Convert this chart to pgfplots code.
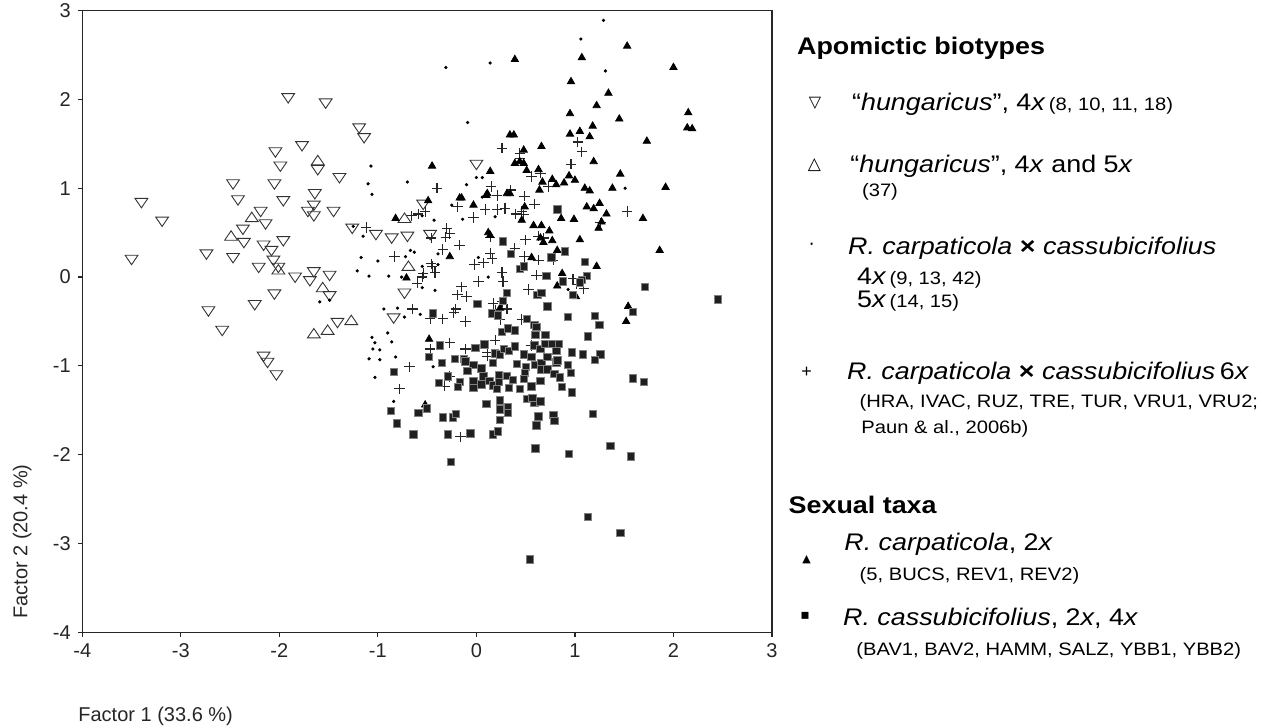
\documentclass[border=0pt]{standalone}
\usepackage{fontspec}
\setmainfont{Liberation Sans}
\newfontfamily\symfont{DejaVu Sans}
\usepackage{graphicx}
\usepackage{pgfplots}
\pgfplotsset{compat=1.18}
\newcommand{\legbig}[1]{\scalebox{1.12}[1]{\fontsize{12}{14}\selectfont #1}}
\newcommand{\legsmall}[1]{\scalebox{1.12}[1]{\fontsize{9}{11}\selectfont #1}}
\newcommand{\leghead}[1]{\scalebox{1.12}[1]{\fontsize{12}{14}\selectfont\bfseries #1}}
\newcommand{\tms}{{\upshape\bfseries ×}}
\begin{document}
\begin{tikzpicture}
\path[use as bounding box] (0,0) rectangle (636.5pt,363.5pt);
\begin{axis}[
  at={(41.15pt,47.35pt)}, anchor=south west,
  scale only axis, width=344.85pt, height=310.85pt,
  xmin=-4, xmax=3, ymin=-4, ymax=3,
  xtick={-4,-3,-2,-1,0,1,2,3}, ytick={-4,-3,-2,-1,0,1,2,3},
  xticklabels={-4,-3,-2,-1,0,1,2,3}, yticklabels={-4,-3,-2,-1,0,1,2,3},
  tick pos=left, tick align=outside, major tick length=2.3pt,
  tick label style={font=\fontsize{10}{12}\selectfont, black!85},
  axis line style={black!85, line width=0.6pt},
  every tick/.style={black!85, line width=0.6pt},
  clip=false,
]
% hungaricus 4x (open down triangles)
\addplot[only marks, mark=triangle, mark size=3.7pt, black!80, line width=0.45pt,
  mark options={rotate=180, yscale=0.85}] coordinates {
(-1.91,2.03) (-1.53,1.97) (-1.19,1.69) (-1.14,1.58) (-1.77,1.49) (-2.04,1.42)
(-1.99,1.26) (-1.61,1.22) (-1.39,1.13) (-2.47,1.06) (-2.05,1.06) (-1.64,0.95)
(-2.42,0.88) (-1.96,0.87) (-3.40,0.85) (-1.65,0.82) (-1.71,0.75) (-1.45,0.75)
(-1.65,0.70) (-2.19,0.75) (-2.14,0.61) (-3.19,0.64) (-2.37,0.55) (-1.26,0.56)
(-1.02,0.49) (-0.86,0.45) (-2.36,0.40) (-1.96,0.42) (-2.16,0.37) (-2.08,0.31)
(-2.74,0.27) (-2.47,0.23) (-3.50,0.21) (-2.06,0.20) (-2.21,0.12) (-2.01,0.12)
(-1.84,0.01) (-1.65,0.07) (-1.69,-0.03) (-1.49,0.03) (-2.05,-0.18) (-1.49,-0.20)
(-2.25,-0.30) (-2.72,-0.37) (-2.58,-0.59) (-1.41,-0.50) (-0.84,-0.45) (-2.16,-0.88)
(-2.12,-0.95) (-2.03,-1.09) (0.00,1.28) (-0.54,0.83) (-0.70,0.47) (-0.47,0.49)
(-0.73,-0.17)
};
% hungaricus 4x and 5x (open up triangles)
\addplot[only marks, mark=triangle, mark size=3.7pt, black!80, line width=0.45pt,
  mark options={yscale=0.85}] coordinates {
(-1.61,1.30) (-2.28,0.66) (-2.49,0.45) (-2.01,0.07) (-1.56,-0.13) (-1.27,-0.50)
(-1.51,-0.61) (-1.65,-0.65) (-0.73,0.65) (-0.69,0.11)
};
% carpaticola x cassubicifolius 4x, 5x (dots)
\addplot[only marks, mark=*, mark size=0.6pt, black] coordinates {
(1.29,2.89) (1.06,2.68) (0.14,2.41) (-0.31,2.36) (1.31,2.32) (-0.09,1.74)
(-0.70,1.07) (0.00,1.12) (0.06,1.12) (-0.10,1.04) (1.51,1.00) (0.06,0.90)
(-0.43,0.64) (-0.14,0.65) (0.19,0.68) (-0.25,0.81) (-0.55,0.69) (-0.67,0.30)
(0.02,0.22) (-0.39,0.26) (-0.55,0.12) (-0.39,0.14) (-0.89,0.01) (-0.76,0.00)
(-0.55,-0.12) (-0.42,-0.15) (0.12,0.00) (-0.94,-0.36) (-0.80,-0.35) (-0.57,-0.42)
(-0.73,-0.45) (0.93,-0.14) (-1.07,1.25) (-1.10,1.05) (-1.06,0.93) (-1.25,0.57)
(-1.15,0.46) (-1.17,0.22) (-1.00,0.18) (-1.21,0.07) (-1.09,0.01) (-1.59,-0.28)
(-1.49,-0.26) (-1.06,-0.68) (-1.03,-0.74) (-1.05,-0.81) (-0.98,-0.82) (-1.09,-0.92)
(-0.98,-0.93) (-0.90,-0.63) (-0.86,-0.73) (-0.82,-0.90) (-1.03,-1.13) (-0.84,-1.40)
(-0.44,-1.01) (-0.72,0.23) (-0.63,0.28)
};
% carpaticola x cassubicifolius 6x (plus)
\addplot[only marks, mark=+, mark size=2.6pt, black!85, line width=0.55pt] coordinates {
(-0.40,1.00) (0.15,1.02) (0.21,0.92) (-0.19,0.79) (-0.03,0.67) (0.09,0.76)
(0.21,0.76) (-0.66,0.69) (-0.59,0.71) (-0.52,0.74) (-1.12,0.56) (-0.30,0.55)
(-0.27,0.49) (-0.31,0.45) (-0.46,0.44) (-0.17,0.36) (-0.34,0.31) (-0.83,0.23)
(0.14,0.27) (0.16,0.21) (0.07,0.16) (-0.02,0.14) (-0.46,0.15) (-0.42,0.05)
(-0.55,0.00) (-0.60,-0.07) (0.02,-0.05) (-0.15,-0.11) (0.26,1.45) (0.44,1.39)
(0.44,1.33) (1.03,1.52) (1.07,1.41) (0.96,1.27) (0.56,1.13) (0.65,1.17)
(0.73,1.02) (0.35,0.98) (0.49,0.91) (0.59,0.82) (0.29,0.77) (0.40,0.71)
(0.46,0.74) (0.48,0.70) (1.53,0.74) (1.26,0.61) (0.14,0.45) (0.50,0.42)
(0.63,0.46) (0.68,0.44) (0.39,0.32) (0.49,0.23) (0.63,0.19) (0.78,0.19)
(0.61,0.02) (-0.54,0.04) (-0.45,0.12) (0.26,0.05) (0.27,-0.05) (0.98,-0.02)
(1.02,-0.08) (1.09,-0.13) (0.53,-0.14) (-0.19,-0.20) (-0.10,-0.22) (0.17,-0.30)
(0.31,-0.36) (0.19,-0.37) (0.24,-0.48) (-0.21,-0.36) (-0.23,-0.40) (-0.65,-0.36)
(-0.47,-0.47) (-0.34,-0.47) (-0.11,-0.50) (0.46,-0.48) (0.19,-0.71) (0.56,-0.77)
(-0.47,-0.81) (-0.27,-0.74) (-0.11,-0.81) (0.11,-0.85) (0.11,-0.89) (-0.68,-1.01)
(-0.27,-1.12) (-0.32,-1.23) (-0.78,-1.26) (-0.16,-1.80) (0.26,-0.28)
};
% R. carpaticola 2x (filled triangles)
\addplot[only marks, mark=triangle*, mark size=2.1pt, black] coordinates {
(1.53,2.60) (0.39,2.45) (1.07,2.47) (2.00,2.36) (0.96,2.20) (1.34,2.07)
(1.22,1.93) (0.95,1.84) (1.45,1.78) (2.15,1.85) (2.14,1.68) (2.19,1.67)
(1.18,1.70) (0.95,1.61) (1.05,1.64) (1.15,1.58) (0.34,1.60) (0.38,1.60)
(1.73,1.53) (0.66,1.47) (0.48,1.43) (1.19,1.30) (0.39,1.28) (0.44,1.30)
(0.48,1.28) (-0.45,1.25) (0.51,1.20) (0.63,1.21) (0.67,1.07) (0.77,1.10)
(0.81,1.04) (0.89,1.06) (0.94,1.14) (1.00,1.09) (0.14,1.19) (1.46,1.16)
(1.92,1.01) (1.38,1.00) (1.10,1.00) (1.15,0.97) (0.64,0.98) (0.34,0.94)
(0.31,0.94) (0.11,0.94) (-0.17,0.89) (-0.03,0.81) (-0.49,0.86) (0.49,0.79)
(0.46,0.64) (1.12,0.79) (1.19,0.77) (1.25,0.83) (0.86,0.66) (0.99,0.65)
(1.32,0.71) (1.69,0.66) (1.24,0.55) (1.27,0.62) (-0.82,0.66) (0.58,0.58)
(0.66,0.58) (0.74,0.52) (0.12,0.50) (0.14,0.47) (0.65,0.44) (0.68,0.39)
(0.77,0.41) (1.05,0.42) (1.86,0.30) (0.82,0.30) (0.56,0.22) (-0.27,0.23)
(-0.71,-0.01) (1.22,0.12) (0.87,0.04) (0.82,-0.10) (1.01,-0.22) (0.24,-0.35)
(1.54,-0.33) (1.52,-0.50) (-0.48,-0.70) (-0.52,-1.44) (-0.15,0.89) (0.10,0.92)
};
% R. cassubicifolius 2x, 4x (filled squares)
\addplot[only marks, mark=square*, mark size=1.85pt, draw=black!50, fill=black!88, line width=0.4pt] coordinates {
(0.82,0.76) (0.27,0.40) (0.35,0.26) (0.90,0.29) (0.76,0.22) (0.44,0.09)
(0.48,0.12) (1.10,0.17) (0.71,0.01) (0.88,-0.05) (1.12,0.01) (1.07,-0.03)
(1.05,-0.06) (1.71,-0.11) (0.62,-0.20) (0.66,-0.18) (0.31,-0.18) (0.98,-0.20)
(0.72,-0.33) (0.01,-0.30) (0.27,-0.27) (-0.44,-0.41) (0.16,-0.41) (0.22,-0.43)
(0.93,-0.45) (1.20,-0.44) (1.25,-0.54) (1.59,-0.39) (2.45,-0.25) (0.51,-0.47)
(0.59,-0.54) (0.61,-0.56) (0.60,-0.65) (0.70,-0.65) (0.26,-0.62) (0.32,-0.58)
(0.39,-0.60) (1.13,-0.67) (-0.84,-1.07) (-0.37,-0.77) (-0.01,-0.80) (0.08,-0.76)
(-0.48,-0.90) (-0.35,-0.97) (-0.22,-0.92) (-0.13,-0.92) (-0.11,-0.95) (-0.03,-0.99)
(0.05,-1.03) (0.17,-0.97) (0.19,-0.86) (0.24,-0.87) (0.28,-0.81) (0.33,-0.83)
(0.39,-0.78) (0.48,-0.87) (0.56,-0.90) (0.59,-0.77) (0.65,-0.81) (0.70,-0.75)
(0.77,-0.75) (0.84,-0.75) (0.81,-0.83) (0.97,-0.85) (1.08,-0.87) (1.26,-0.87)
(1.20,-0.93) (0.41,-0.98) (0.50,-1.01) (0.60,-0.99) (0.66,-0.97) (0.66,-1.04)
(0.72,-1.04) (0.81,-0.96) (0.72,-0.90) (0.82,-0.94) (0.79,-1.09) (0.85,-1.13)
(0.93,-0.99) (0.96,-1.08) (-0.09,-1.06) (0.07,-1.12) (-0.03,-1.17) (-0.03,-1.25)
(0.05,-1.21) (0.13,-1.17) (0.17,-1.22) (0.21,-1.26) (0.23,-1.10) (0.31,-1.11)
(0.23,-1.18) (0.37,-1.16) (0.49,-1.08) (0.48,-1.15) (0.56,-1.23) (0.65,-1.17)
(0.33,-1.25) (0.44,-1.26) (0.51,-1.37) (0.59,-1.42) (0.65,-1.40) (0.57,-1.36)
(-0.29,-1.12) (-0.38,-1.19) (-0.17,-1.18) (-0.19,-1.24) (0.87,-1.24) (0.97,-1.30)
(1.59,-1.14) (1.70,-1.18) (-0.87,-1.51) (-0.81,-1.65) (-0.64,-1.77) (-0.59,-1.53)
(-0.50,-1.48) (-0.34,-1.58) (-0.24,-1.58) (-0.21,-1.54) (-0.29,-1.77) (-0.26,-2.08)
(-0.06,-1.76) (0.17,-1.77) (0.22,-1.74) (0.10,-1.43) (0.24,-1.39) (0.32,-1.47)
(0.24,-1.49) (0.32,-1.53) (0.24,-1.61) (0.63,-1.57) (0.61,-1.67) (0.78,-1.55)
(0.79,-1.62) (1.18,-1.54) (0.60,-1.93) (0.94,-1.99) (1.36,-1.90) (1.57,-2.02)
(1.13,-2.70) (1.46,-2.88) (0.54,-3.18)
};
\end{axis}
% axis titles
\node[anchor=base west, inner sep=0pt, font=\fontsize{10}{12}\selectfont, black!85] at (39pt,2.65pt) {Factor 1 (33.6 \%)};
\node[anchor=base west, inner sep=0pt, rotate=90, font=\fontsize{10}{12}\selectfont, black!85] at (13.65pt,53.85pt) {Factor 2 (20.4 \%)};
% legend
\node[anchor=base west, inner sep=0pt] at (398.35pt,336.35pt) {\leghead{Apomictic biotypes}};
\node[inner sep=0pt, font=\symfont\fontsize{8}{8}\selectfont] at (407.5pt,311.85pt) {▽};
\node[anchor=base west, inner sep=0pt] at (425.85pt,308.15pt) {\legbig{“\textit{hungaricus}”, 4\textit{x}}\,\legsmall{(8, 10, 11, 18)}};
\node[inner sep=0pt, font=\symfont\fontsize{8.5}{8.5}\selectfont] at (407.15pt,281pt) {△};
\node[anchor=base west, inner sep=0pt] at (425pt,277.35pt) {\legbig{“\textit{hungaricus}”, 4\textit{x} and 5\textit{x}}};
\node[anchor=base west, inner sep=0pt] at (430.85pt,265.15pt) {\legsmall{(37)}};
\node[inner sep=0pt, font=\symfont\fontsize{9}{9}\selectfont] at (405.85pt,240.15pt) {·};
\node[anchor=base west, inner sep=0pt] at (423.85pt,236pt) {\legbig{\textit{R. carpaticola \tms{} cassubicifolius}}};
\node[anchor=base west, inner sep=0pt] at (428.35pt,221pt) {\legbig{4\textit{x}}\,\legsmall{(9, 13, 42)}};
\node[anchor=base west, inner sep=0pt] at (428.35pt,209.85pt) {\legbig{5\textit{x}}\,\legsmall{(14, 15)}};
\node[inner sep=0pt, font=\fontsize{9}{9}\selectfont] at (403.35pt,177.15pt) {+};
\node[anchor=base west, inner sep=0pt] at (423.35pt,173.5pt) {\legbig{\textit{R. carpaticola \tms{} cassubicifolius}\,6\textit{x}}};
\node[anchor=base west, inner sep=0pt] at (429.65pt,159.85pt) {\legsmall{(HRA, IVAC, RUZ, TRE, TUR, VRU1, VRU2;}};
\node[anchor=base west, inner sep=0pt] at (430.5pt,146.5pt) {\legsmall{Paun \& al., 2006b)}};
\node[anchor=base west, inner sep=0pt] at (394.15pt,106.85pt) {\leghead{Sexual taxa}};
\node[anchor=base west, inner sep=0pt] at (422pt,88.15pt) {\legbig{\textit{R. carpaticola}, 2\textit{x}}};
\node[inner sep=0pt, font=\symfont\fontsize{5.5}{6}\selectfont] at (403.35pt,83.85pt) {▲};
\node[anchor=base west, inner sep=0pt] at (429.65pt,73.15pt) {\legsmall{(5, BUCS, REV1, REV2)}};
\node[inner sep=0pt, font=\symfont\fontsize{7}{7}\selectfont] at (402.5pt,55.5pt) {▪};
\node[anchor=base west, inner sep=0pt] at (421.35pt,50.5pt) {\legbig{\textit{R. cassubicifolius}, 2\textit{x}, 4\textit{x}}};
\node[anchor=base west, inner sep=0pt] at (428pt,35.5pt) {\legsmall{(BAV1, BAV2, HAMM, SALZ, YBB1, YBB2)}};
\end{tikzpicture}
\end{document}
